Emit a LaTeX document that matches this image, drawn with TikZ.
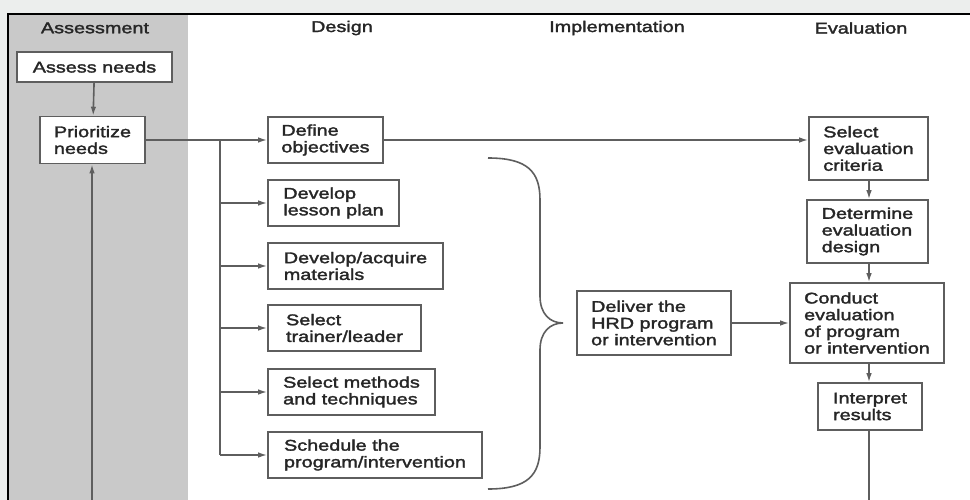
\documentclass[tikz,border=0pt]{standalone}
\usepackage{fontspec}
\setmainfont[FakeStretch=1.28,FakeBold=2]{Liberation Sans}
\usetikzlibrary{arrows.meta}
\definecolor{panelgray}{HTML}{C9C9C9}
\definecolor{paper}{HTML}{ECEEED}
\definecolor{linegray}{HTML}{5E5E5E}
\tikzset{
  stage/.style={draw=linegray, fill=white, line width=1.6pt, align=left, inner sep=0pt,
    text=black!85, font=\fontsize{15.5}{16.7}\selectfont},
  phase/.style={text=black!85, font=\fontsize{15.5}{16.7}\selectfont},
  flow/.style={draw=linegray, line width=1.6pt, -{Latex[length=9pt,width=5.5pt]}},
  plain/.style={draw=linegray, line width=1.6pt}
}
\begin{document}
\begin{tikzpicture}[x=1pt,y=-1pt]
\pgfmathsetmacro{\L}{8}
\pgfmathsetmacro{\T}{14}
\pgfmathsetmacro{\R}{970}
\pgfmathsetmacro{\B}{500}
\useasboundingbox (0,0) rectangle (\R,\B);
\fill[paper] (0,0) rectangle (\R,\B);
\fill[white] (\L,\T) rectangle (\R,\B);
\fill[panelgray] (\L,\T) rectangle (188,\B);
\draw[line width=2.2pt] (\L,\B) -- (\L,\T) -- (\R,\T);
\node[phase] (hassess) at (95,28) {Assessment};
\node[phase] (hdesign) at (342,28) {Design};
\node[phase] (himpl) at (617,28) {Implementation};
\node[phase] (heval) at (861,28) {Evaluation};
\node[stage, minimum width=155pt, minimum height=30pt] (assess) at (94.5,67) {Assess needs};
\node[stage, minimum width=105pt, minimum height=47pt] (prior) at (92.5,140) {Prioritize\\needs};
\node[stage, minimum width=115pt, minimum height=46pt] (define) at (325.5,140) {Define\\objectives};
\node[stage, minimum width=131pt, minimum height=46pt] (lesson) at (333.5,203) {Develop\\lesson plan};
\node[stage, minimum width=175pt, minimum height=46pt] (materials) at (355.5,266) {Develop/acquire\\materials};
\node[stage, minimum width=153pt, minimum height=46pt] (trainer) at (344.5,328) {Select\\trainer/leader};
\node[stage, minimum width=167pt, minimum height=46pt] (methods) at (351.5,392) {Select methods\\and techniques};
\node[stage, minimum width=214pt, minimum height=46pt] (schedule) at (375,455) {Schedule the\\program/intervention};
\node[stage, minimum width=154pt, minimum height=64pt] (deliver) at (654,323) {Deliver the\\HRD program\\or intervention};
\node[stage, minimum width=119pt, minimum height=63pt] (criteria) at (868.5,148.5) {Select\\evaluation\\criteria};
\node[stage, minimum width=121pt, minimum height=63pt] (evdesign) at (867.5,231.5) {Determine\\evaluation\\design};
\node[stage, minimum width=154pt, minimum height=80pt] (conduct) at (867,323) {Conduct\\evaluation\\of program\\or intervention};
\node[stage, minimum width=104pt, minimum height=47pt] (interpret) at (870,406.5) {Interpret\\results};
\coordinate (branch) at (220,140);
\coordinate (loopL) at (92,\B);
\coordinate (loopR) at (869,\B);
\draw[flow] (assess) -- (prior);
\draw[flow] (loopL) -- (loopL |- prior.south);
\draw[flow] (prior) -- (define);
\draw[plain] (branch) -- (branch |- schedule.west);
\foreach \s in {lesson,materials,trainer,methods,schedule}
  \draw[flow] (branch |- \s.west) -- (\s.west);
\draw[flow] (define.east) -- (define.east -| criteria.west);
\draw[flow] (criteria.south -| loopR) -- (evdesign.north -| loopR);
\draw[flow] (evdesign.south -| loopR) -- (conduct.north -| loopR);
\draw[flow] (conduct.south -| loopR) -- (interpret.north -| loopR);
\draw[plain] (interpret.south -| loopR) -- (loopR);
\draw[flow] (deliver) -- (conduct);
\draw[plain] (488,158) .. controls (528,158) and (540,172) .. (540,200) -- (540,296)
  .. controls (540,314) and (550,323) .. (563,323)
  .. controls (550,323) and (540,332) .. (540,350) -- (540,447)
  .. controls (540,475) and (528,489) .. (488,489);
\end{tikzpicture}
\end{document}
